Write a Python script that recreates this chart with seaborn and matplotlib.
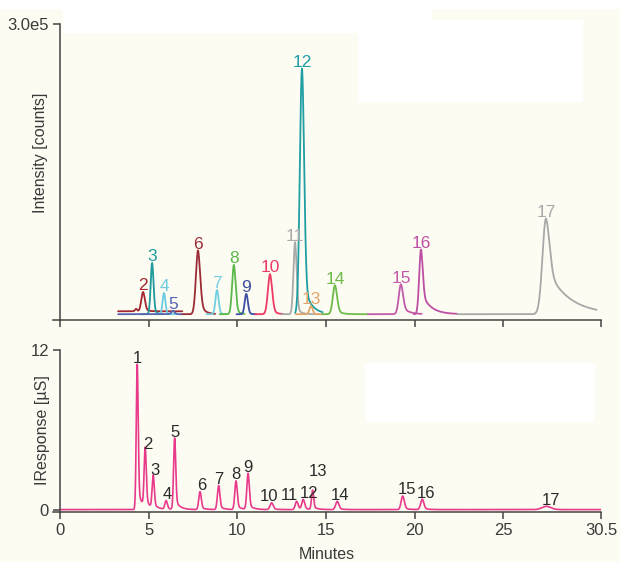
import numpy as np
import pandas as pd
import matplotlib
matplotlib.use("Agg")
import matplotlib.pyplot as plt
from matplotlib.patches import Rectangle
import seaborn as sns

# ---- top panel: one MS trace per compound (peak table)
TOP_IDS = ["2", "3", "4", "5", "6", "7", "8", "9", "10", "11", "12", "13", "14", "15", "16", "17"]
TOP_RT = [4.68, 5.19, 5.86, 6.37, 7.78, 8.85, 9.80, 10.50, 11.84, 13.25, 13.64, 14.15, 15.50, 19.22, 20.35, 27.40]
TOP_HEIGHT = [20000, 53000, 22000, 3500, 66000, 25000, 51000, 21000, 41500, 74500,
              254000, 8500, 30000, 31000, 67000, 99000]
TOP_SIGMA = [0.10, 0.08, 0.08, 0.09, 0.12, 0.09, 0.10, 0.09, 0.12, 0.09, 0.12, 0.09, 0.12, 0.12, 0.10, 0.20]
TOP_TAIL = [0.15, 0.15, 0.1, 0.1, 0.25, 0.1, 0.15, 0.1, 0.2, 0.15, 0.15, 0.1, 0.2, 0.3, 0.35, 0.5]
TOP_TAU = [0.2, 0.15, 0.15, 0.15, 0.25, 0.15, 0.2, 0.15, 0.2, 0.2, 0.4, 0.15, 0.25, 0.35, 0.5, 1.2]
TOP_START = [3.27, 4.55, 5.35, 3.27, 6.90, 8.25, 9.00, 9.95, 11.00, 12.50, 13.25, 13.30, 14.78, 17.36, 19.95, 22.40]
TOP_END = [6.90, 5.85, 6.50, 6.90, 8.75, 9.35, 10.40, 11.05, 12.60, 14.60, 14.80, 14.80, 17.36, 20.40, 22.40, 30.25]
TOP_BASE = [3000, 0, 0, 0, 0, 0, 0, 0, 0, 0, 0, 0, 0, 0, 0, 0]
TOP_COLORS = ["#a3262f", "#1f999c", "#6ccbe0", "#5564b2", "#9a2b35", "#72cfe2", "#5bb84b", "#3c4fa3",
              "#ec3a64", "#a9a9a9", "#1f9ea4", "#e2a56a", "#6dbb4a", "#c25aa9", "#bd4fa3", "#a8a8a8"]

# ---- bottom panel: conductivity trace
BOT_IDS = [str(i) for i in range(1, 18)]
BOT_RT = [4.35, 4.80, 5.25, 5.98, 6.46, 7.89, 8.94, 9.92, 10.60, 11.93, 13.34, 13.71, 14.24,
          15.63, 19.32, 20.42, 27.43]
BOT_HEIGHT = [10.9, 4.4, 2.45, 0.65, 5.35, 1.35, 1.8, 2.15, 2.7, 0.5, 0.62, 0.75, 1.45,
              0.62, 1.02, 0.78, 0.25]
BOT_SIGMA = [0.055, 0.06, 0.06, 0.07, 0.06, 0.07, 0.07, 0.07, 0.07, 0.09, 0.08, 0.08, 0.06,
             0.09, 0.09, 0.09, 0.25]
BOT_LABEL_DX = [0, 2, 1, 1, 0, 1, 0, 0, 0, -2, -5, 4, 4, 2, 3, 3, 3]
BOT_LABEL_DY = [0, 0, 0, 0, 0, 0, 0, 0, 0, 0, 0, 0, 9, 0, 0, 0, 0]

X_TICKS = [0, 5, 10, 15, 20, 25, 30.5]
X_TICK_LABELS = ["0", "5", "10", "15", "20", "25", "30.5"]

BG = "#fdfcf3"
INK = "#3a3a3a"
BOT_COLOR = "#e9398b"


def peak_shape(t, rt, h, sigma, frac, tau):
    g = np.exp(-0.5 * ((t - rt) / sigma) ** 2)
    tail = np.exp(-np.clip(t - rt, 0, None) / tau)
    right = (1 - frac) * g + frac * tail
    return h * np.where(t < rt, g, right)


def build_top_frame():
    rows = []
    for i, pid in enumerate(TOP_IDS):
        t = np.arange(TOP_START[i], TOP_END[i], 0.01)
        y = TOP_BASE[i] + peak_shape(t, TOP_RT[i], TOP_HEIGHT[i], TOP_SIGMA[i], TOP_TAIL[i], TOP_TAU[i])
        if pid == "2":
            # small shoulder ahead of peak 2
            y = y + peak_shape(t, 4.28, 2500, 0.06, 0.0, 0.1)
        rows.append(pd.DataFrame({"minutes": t, "intensity": y, "peak": pid}))
    return pd.concat(rows, ignore_index=True)


def build_bottom_frame():
    t = np.arange(0, 30.5, 0.005)
    y = np.full_like(t, 0.03)
    for rt, h, s in zip(BOT_RT, BOT_HEIGHT, BOT_SIGMA):
        y = y + peak_shape(t, rt, h, s, 0.15, 0.25)
    return pd.DataFrame({"minutes": t, "response": y})


def style_axis(ax):
    ax.set_facecolor("none")
    for side in ["top", "right"]:
        ax.spines[side].set_visible(False)
    ax.spines["left"].set_position(("data", 0))
    for side in ["left", "bottom"]:
        ax.spines[side].set_color("#444444")
        ax.spines[side].set_linewidth(1.1)
    ax.tick_params(axis="both", direction="out", length=5, width=1.1, color="#444444",
                   labelsize=12, labelcolor=INK, pad=3)
    ax.set_xlim(-0.4, 30.5)
    ax.set_xticks(X_TICKS)
    ax.grid(False)


def main():
    sns.set_style("ticks")
    plt.rcParams["font.family"] = ["Liberation Sans", "DejaVu Sans"]

    fig = plt.figure(figsize=(6.2, 5.62), dpi=100, facecolor=BG)
    W, H = 620, 562

    # whitish paste-up areas of the scanned figure
    for (x0, y0, x1, y1) in [(0, 0, 620, 9), (63, 9, 432, 33), (358, 20, 583, 102), (365, 363, 595, 422)]:
        fig.patches.append(Rectangle((x0 / W, 1 - y1 / H), (x1 - x0) / W, (y1 - y0) / H,
                                     transform=fig.transFigure, facecolor="white",
                                     edgecolor="none", zorder=0))

    ax_top = fig.add_axes([53 / W, 1 - 320 / H, 548 / W, 296 / H])
    ax_bot = fig.add_axes([53 / W, 1 - 512 / H, 548 / W, 162 / H])

    # ---- top panel
    top = build_top_frame()
    sns.lineplot(data=top, x="minutes", y="intensity", hue="peak", hue_order=TOP_IDS,
                 palette=TOP_COLORS, estimator=None, sort=False, legend=False,
                 linewidth=1.3, ax=ax_top)
    style_axis(ax_top)
    ax_top.set_ylim(-6000, 3.0e5)
    ax_top.set_yticks([3.0e5])
    ax_top.set_yticklabels(["3.0e5"])
    ax_top.tick_params(axis="x", labelbottom=False)
    ax_top.set_xlabel("")
    ax_top.set_ylabel("Intensity [counts]", fontsize=11.5, color=INK, va="center")
    ax_top.yaxis.set_label_coords(-0.022, 0.564)

    for i, pid in enumerate(TOP_IDS):
        apex = TOP_BASE[i] + TOP_HEIGHT[i]
        ax_top.annotate(pid, (TOP_RT[i], apex), xytext=(0, -1), textcoords="offset points",
                        ha="center", va="bottom", fontsize=12.5, color=TOP_COLORS[i])

    # ---- bottom panel
    bot = build_bottom_frame()
    sns.lineplot(data=bot, x="minutes", y="response", color=BOT_COLOR, estimator=None,
                 sort=False, linewidth=1.2, ax=ax_bot)
    style_axis(ax_bot)
    ax_bot.set_ylim(-0.15, 12)
    ax_bot.set_yticks([0, 12])
    ax_bot.set_xticklabels(X_TICK_LABELS)
    ax_bot.set_xlabel("Minutes", fontsize=11.5, color=INK, labelpad=6.5)
    ax_bot.set_ylabel("IResponse [µS]", fontsize=11.5, color=INK, va="center")
    ax_bot.yaxis.set_label_coords(-0.02, 0.506)

    for i, pid in enumerate(BOT_IDS):
        ax_bot.annotate(pid, (BOT_RT[i], BOT_HEIGHT[i] + 0.03),
                        xytext=(BOT_LABEL_DX[i], BOT_LABEL_DY[i] - 1), textcoords="offset points",
                        ha="center", va="bottom", fontsize=12, color="#2a2a2a")

    fig.savefig("out.png", dpi=100, facecolor=BG)
    plt.close(fig)


if __name__ == "__main__":
    main()
